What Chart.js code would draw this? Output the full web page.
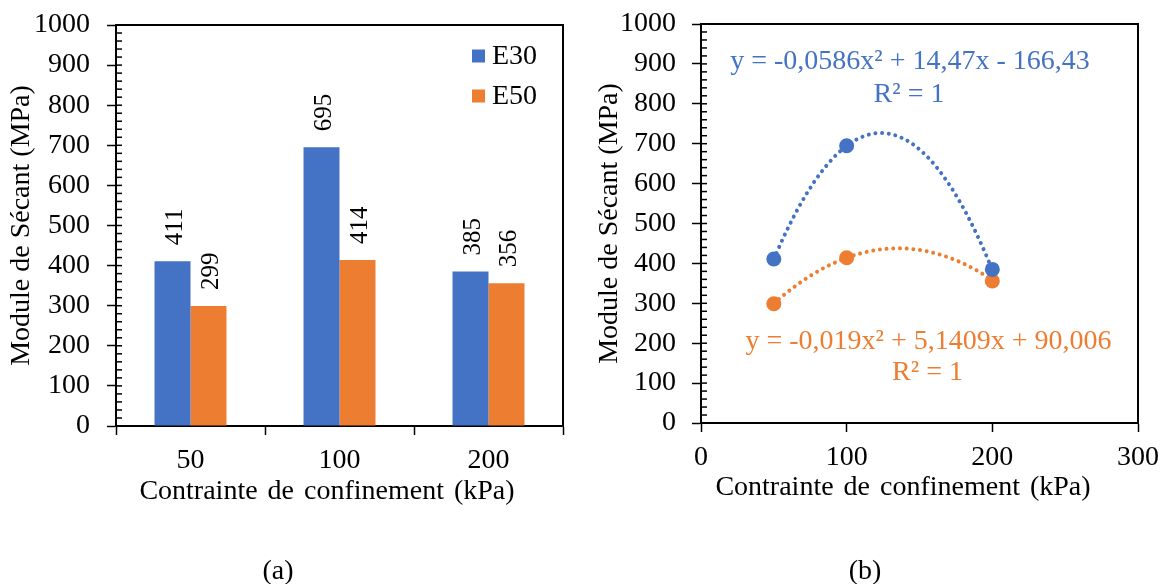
<!DOCTYPE html>
<html><head><meta charset="utf-8">
<script src="https://cdn.jsdelivr.net/npm/chart.js@4.4.1/dist/chart.umd.min.js"></script>
<style>
html,body{margin:0;padding:0;background:#fff;width:1170px;height:584px;overflow:hidden;}
#wrap{position:relative;width:1170px;height:584px;background:#fff;}
canvas{position:absolute;top:0;}
#ca{left:0;}
#cb{left:580px;}
.cap{position:absolute;font-family:'Liberation Serif','Times New Roman',serif;font-size:28px;color:#000;transform:translate(-50%,-50%);top:570px;line-height:1;white-space:nowrap;}
</style></head><body>
<div id="wrap">
<canvas id="ca" width="580" height="584"></canvas>
<canvas id="cb" width="590" height="584"></canvas>
<div class="cap" style="left:278px">(a)</div>
<div class="cap" style="left:865px">(b)</div>
</div>
<script>
// ---------- data ----------
const categories = ['50', '100', '200'];
const seriesNames = ['E30', 'E50'];
const e30 = [411, 695, 385];
const e50 = [299, 414, 356];
const confinement = [50, 100, 200];
const yRange = [0, 1000];
const yStep = 100;
const yMinorStep = 20;
const xRangeB = [0, 300];
const xStepB = 100;
// polynomial trendline coefficients (a, b, c) as printed on the chart
const trendE30 = [-0.0586, 14.47, -166.43];
const trendE50 = [-0.019, 5.1409, 90.006];
const eqE30 = ['y = -0,0586x² + 14,47x - 166,43', 'R² = 1'];
const eqE50 = ['y = -0,019x² + 5,1409x + 90,006', 'R² = 1'];
const yTitle = 'Module de Sécant (MPa)';
const xTitle = 'Contrainte de confinement (kPa)';

// ---------- style ----------
const FONT = "'Liberation Serif','Times New Roman',serif";
const BLUE = '#4472C4', ORANGE = '#ED7D31';
Chart.defaults.font.family = FONT;
Chart.defaults.color = '#000';
Chart.defaults.animation = false;

function innerTicksAndBox(chart) {
  const ctx = chart.ctx, ca = chart.chartArea, y = chart.scales.y;
  ctx.save();
  ctx.strokeStyle = '#000';
  ctx.lineWidth = 1.5;
  for (let v = yRange[0]; v <= yRange[1]; v += yMinorStep) {
    const py = y.getPixelForValue(v);
    ctx.beginPath(); ctx.moveTo(ca.left, py); ctx.lineTo(ca.left + 6, py); ctx.stroke();
  }
  ctx.lineWidth = 2;
  ctx.beginPath();
  ctx.moveTo(ca.left, ca.top); ctx.lineTo(ca.right, ca.top); ctx.lineTo(ca.right, ca.bottom);
  ctx.stroke();
  ctx.restore();
}

function drawXTitle(chart, cx, cy) {
  const ctx = chart.ctx;
  ctx.save();
  ctx.font = '28px ' + FONT; ctx.fillStyle = '#000';
  ctx.textAlign = 'center'; ctx.textBaseline = 'middle';
  try { ctx.wordSpacing = '3px'; } catch (e) {}
  ctx.fillText(xTitle, cx, cy);
  ctx.restore();
}

function yScaleOpts(width, titlePad, tickPad) {
  return {
    min: yRange[0], max: yRange[1],
    afterFit(s) { s.width = width; s.paddingTop = 0; s.paddingBottom = 0; },
    ticks: { stepSize: yStep, font: { size: 28 }, color: '#000', padding: tickPad, callback: v => String(v) },
    grid: { drawOnChartArea: false, drawTicks: true, tickLength: 9, color: '#000', tickWidth: 1.5 },
    border: { display: true, color: '#000', width: 2 },
    title: { display: true, text: yTitle, font: { size: 28 }, color: '#000', padding: { top: titlePad, bottom: 0 } }
  };
}

function xScaleCommon(height) {
  return {
    afterFit(s) { s.height = height; s.paddingLeft = 0; s.paddingRight = 0; },
    grid: { drawOnChartArea: false, drawTicks: true, tickLength: 9, color: '#000', tickWidth: 1.5 },
    border: { display: true, color: '#000', width: 2 },
    title: { display: false }
  };
}

// ---------- chart (a) ----------
new Chart(document.getElementById('ca'), {
  type: 'bar',
  data: {
    labels: categories,
    datasets: [
      { label: seriesNames[0], data: e30, backgroundColor: BLUE },
      { label: seriesNames[1], data: e50, backgroundColor: ORANGE }
    ]
  },
  options: {
    responsive: false,
    layout: { padding: { top: 25, right: 17, left: 0, bottom: 75.2 } },
    datasets: { bar: { categoryPercentage: 0.483, barPercentage: 1, borderWidth: 0 } },
    plugins: { legend: { display: false }, tooltip: { enabled: false } },
    scales: {
      x: Object.assign(xScaleCommon(82.8), {
        ticks: { font: { size: 28 }, color: '#000', padding: 9 }
      }),
      y: yScaleOpts(116, 5, 17)
    }
  },
  plugins: [{
    id: 'decorA',
    afterDatasetsDraw(chart) {
      const ctx = chart.ctx;
      ctx.save();
      ctx.font = '25px ' + FONT; ctx.fillStyle = '#000';
      ctx.textAlign = 'left'; ctx.textBaseline = 'middle';
      chart.data.datasets.forEach((ds, i) => {
        chart.getDatasetMeta(i).data.forEach((bar, j) => {
          ctx.save();
          ctx.translate(bar.x + 3, bar.y - 16);
          ctx.rotate(-Math.PI / 2);
          ctx.fillText(String(ds.data[j]), 0, 0);
          ctx.restore();
        });
      });
      ctx.restore();
    },
    afterDraw(chart) {
      innerTicksAndBox(chart);
      drawXTitle(chart, 327, 492);
      // legend inside plot (top right)
      const ctx = chart.ctx;
      ctx.save();
      ctx.font = '28px ' + FONT; ctx.textAlign = 'left'; ctx.textBaseline = 'middle';
      chart.data.datasets.forEach((ds, i) => {
        const cy = 56 + i * 40;
        ctx.fillStyle = ds.backgroundColor;
        ctx.fillRect(472, cy - 6.5, 13, 13);
        ctx.fillStyle = '#000';
        ctx.fillText(ds.label, 492, cy + 1);
      });
      ctx.restore();
    }
  }]
});

// ---------- chart (b) ----------
function trendPoints(coef) {
  const pts = [];
  const x0 = confinement[0], x1 = confinement[confinement.length - 1];
  for (let x = x0; x <= x1; x += 1) pts.push({ x, y: coef[0] * x * x + coef[1] * x + coef[2] });
  return pts;
}
const toXY = arr => confinement.map((x, i) => ({ x, y: arr[i] }));

new Chart(document.getElementById('cb'), {
  type: 'scatter',
  data: {
    datasets: [
      { label: seriesNames[0], data: toXY(e30), backgroundColor: BLUE, borderColor: BLUE, pointRadius: 7.5, borderWidth: 0, order: 0 },
      { label: seriesNames[1], data: toXY(e50), backgroundColor: ORANGE, borderColor: ORANGE, pointRadius: 7.5, borderWidth: 0, order: 0 },
      { type: 'line', label: 'trend ' + seriesNames[0], data: trendPoints(trendE30), borderColor: BLUE, borderWidth: 4,
        borderDash: [0.01, 6.7], borderCapStyle: 'round', pointRadius: 0, fill: false, tension: 0, order: 1 },
      { type: 'line', label: 'trend ' + seriesNames[1], data: trendPoints(trendE50), borderColor: ORANGE, borderWidth: 4,
        borderDash: [0.01, 6.7], borderCapStyle: 'round', pointRadius: 0, fill: false, tension: 0, order: 1 }
    ]
  },
  options: {
    responsive: false,
    layout: { padding: { top: 24, right: 32, left: 0, bottom: 79.2 } },
    plugins: { legend: { display: false }, tooltip: { enabled: false } },
    scales: {
      x: Object.assign(xScaleCommon(81.8), {
        type: 'linear', min: xRangeB[0], max: xRangeB[1],
        ticks: { stepSize: xStepB, font: { size: 28 }, color: '#000', padding: 9, callback: v => String(v) }
      }),
      y: yScaleOpts(121, 13, 16)
    }
  },
  plugins: [{
    id: 'decorB',
    afterDraw(chart) {
      innerTicksAndBox(chart);
      drawXTitle(chart, 323, 488);
      const ctx = chart.ctx, xs = chart.scales.x, ys = chart.scales.y;
      const labels = [
        { lines: eqE30, color: BLUE, at: [[143.5, 905], [142.8, 822]] },
        { lines: eqE50, color: ORANGE, at: [[156.2, 204], [155.5, 125]] }
      ];
      ctx.save();
      ctx.font = '28px ' + FONT; ctx.textAlign = 'center'; ctx.textBaseline = 'middle';
      labels.forEach(l => {
        ctx.fillStyle = l.color;
        l.lines.forEach((t, k) => ctx.fillText(t, xs.getPixelForValue(l.at[k][0]), ys.getPixelForValue(l.at[k][1])));
      });
      ctx.restore();
    }
  }]
});
</script>
</body></html>
